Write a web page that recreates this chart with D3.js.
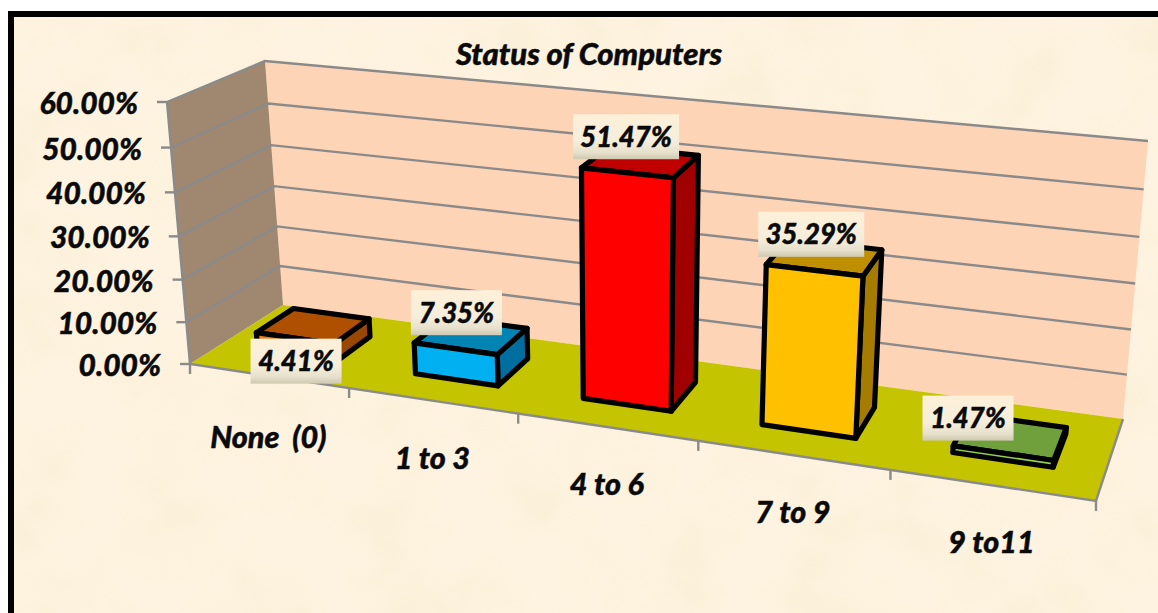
<!DOCTYPE html>
<html><head><meta charset="utf-8">
<script src="https://cdn.jsdelivr.net/npm/d3@7/dist/d3.min.js"></script>
<style>html,body{margin:0;padding:0;background:#fff}svg{display:block}text{font-family:Lato,"Open Sans",sans-serif;font-weight:900;font-style:italic;fill:#0a0a0a;stroke:#0a0a0a;stroke-width:.45px}</style>
</head><body><div id="c"></div>
<script>
const title = "Status of Computers";
const categories = ["None  (0)", "1 to 3", "4 to 6", "7 to 9", "9 to11"];
const values = [0.0441, 0.0735, 0.5147, 0.3529, 0.0147];
const tickValues = [0, 0.1, 0.2, 0.3, 0.4, 0.5, 0.6];
const frontColors = ["#F07D14", "#00B0F0", "#FF0000", "#FFC000", "#92D050"];
const topColors = ["#AE5000", "#0084B4", "#C00000", "#C08F00", "#70A03C"];
const sideColors = ["#9A4700", "#006F9F", "#A00000", "#A67C00", "#557F2E"];

const W = 1158, H = 613;
const svg = d3.select("#c").append("svg").attr("width", W).attr("height", H);
const defs = svg.append("defs");

const grad = defs.append("linearGradient").attr("id", "lab").attr("x1", 0).attr("y1", 0).attr("x2", 0).attr("y2", 1);
[[0, "#FDF0D8"], [0.6, "#F5EEDC"], [0.85, "#E6E0CC"], [1, "#CFC9B2"]].forEach(s => grad.append("stop").attr("offset", s[0]).attr("stop-color", s[1]));

const noise = defs.append("filter").attr("id", "mottle").attr("x", 0).attr("y", 0).attr("width", 1).attr("height", 1);
noise.append("feTurbulence").attr("type", "fractalNoise").attr("baseFrequency", 0.014).attr("numOctaves", 3).attr("seed", 7);
noise.append("feColorMatrix").attr("type", "matrix").attr("values", "0 0 0 0 0.93  0 0 0 0 0.86  0 0 0 0 0.66  1.6 0 0 0 -0.62");

// frame and parchment
svg.append("rect").attr("x", 8).attr("y", 11).attr("width", W).attr("height", H).attr("fill", "#000");
svg.append("rect").attr("x", 14).attr("y", 17).attr("width", W).attr("height", H).attr("fill", "#FEF3E0");
svg.append("rect").attr("x", 14).attr("y", 17).attr("width", W).attr("height", H).attr("filter", "url(#mottle)").attr("opacity", 0.7);

// view of the 3D box: [category axis, depth axis, value axis] corners
const corners = {
  "000": [190, 364], "100": [1096, 501], "010": [283, 305], "110": [1123, 419],
  "001": [167, 102], "101": [1122, 203], "011": [265, 61], "111": [1148, 141]
};
const foreshorten = (t, a) => a * t / (1 + (a - 1) * t);
function project(u, d, h) {
  const a = foreshorten(u, 0.852), c = foreshorten(h, 0.95);
  const out = [0, 0];
  for (const i of [0, 1]) for (const j of [0, 1]) for (const k of [0, 1]) {
    const w = (i ? a : 1 - a) * (j ? d : 1 - d) * (k ? c : 1 - c);
    const p = corners[`${i}${j}${k}`];
    out[0] += w * p[0]; out[1] += w * p[1];
  }
  return out;
}

const x = d3.scaleBand().domain(categories).range([0, 1]).paddingInner(0.5).paddingOuter(0.25);
const y = d3.scaleLinear().domain([0, 0.6]).range([0, 1]);
const fmt = d3.format(".2%");
const line = d3.line();
const poly = pts => line(pts) + "Z";
const GREY = "#8A8A8A";

const g = svg.append("g");
// walls and floor
g.append("path").attr("fill", "#FED4B7").attr("d", poly([[0,1,0],[1,1,0],[1,1,1],[0,1,1]].map(p => project(...p))));
g.append("path").attr("fill", "#A08870").attr("d", poly([[0,0,0],[0,1,0],[0,1,1],[0,0,1]].map(p => project(...p))));
g.append("path").attr("fill", "#C4C400").attr("d", poly([[0,0,0],[1,0,0],[1,1,0],[0,1,0]].map(p => project(...p))));

// gridlines
g.selectAll(".grid").data(tickValues.filter(v => v > 0)).join("path").attr("class", "grid")
  .attr("fill", "none").attr("stroke", GREY).attr("stroke-width", 2.4)
  .attr("d", v => line([project(0, 0, y(v)), project(0, 1, y(v)), project(1, 1, y(v))]));

// axis lines
g.append("path").attr("fill", "none").attr("stroke", GREY).attr("stroke-width", 2.4)
  .attr("d", line([project(0, 0, 1), project(0, 0, 0), project(1, 0, 0), project(1, 1, 0)]));

// value ticks
g.selectAll(".yt").data(tickValues).join("path").attr("class", "yt")
  .attr("stroke", GREY).attr("stroke-width", 2.4)
  .attr("d", v => { const p = project(0, 0, y(v)); return line([[p[0] - 10, p[1]], p]); });
g.selectAll(".yl").data(tickValues).join("text").attr("class", "yl")
  .attr("text-anchor", "end").attr("font-size", 30)
  .attr("x", v => project(0, 0, y(v))[0] - 29)
  .attr("y", v => project(0, 0, y(v))[1] + 12)
  .text(fmt);

// category ticks
const pad = (x.step() - x.bandwidth()) / 2;
const edges = categories.map(c => x(c) - pad).concat([1]);
g.selectAll(".xt").data(edges).join("path").attr("class", "xt")
  .attr("stroke", GREY).attr("stroke-width", 2.4)
  .attr("d", u => { const p = project(u, 0, 0); return line([p, [p[0], p[1] + 10]]); });
const catShift = new Map([["None  (0)", 4]]);
g.selectAll(".xl").data(categories).join("text").attr("class", "xl")
  .attr("text-anchor", "middle").attr("font-size", 30.5).attr("xml:space", "preserve").style("white-space", "pre")
  .attr("x", c => project(x(c) + x.bandwidth() / 2, 0, 0)[0])
  .attr("y", c => project(x(c) + x.bandwidth() / 2, 0, 0)[1] + 68 + (catShift.get(c) || 0))
  .text(c => c);

// bars
const D0 = 0.32, D1 = 0.73;
const order = d3.range(categories.length);
const bars = g.selectAll(".bar").data(order).join("g").attr("class", "bar")
  .attr("stroke", "#000").attr("stroke-width", 5.2).attr("stroke-linejoin", "round");
const uv = i => [x(categories[i]), x(categories[i]) + x.bandwidth()];
bars.append("path").attr("fill", i => sideColors[i]).attr("d", i => {
  const [, u1] = uv(i), h = y(values[i]);
  return poly([[u1,D0,0],[u1,D1,0],[u1,D1,h],[u1,D0,h]].map(p => project(...p)));
});
bars.append("path").attr("fill", i => topColors[i]).attr("d", i => {
  const [u0, u1] = uv(i), h = y(values[i]);
  return poly([[u0,D0,h],[u1,D0,h],[u1,D1,h],[u0,D1,h]].map(p => project(...p)));
});
bars.append("path").attr("fill", i => frontColors[i]).attr("d", i => {
  const [u0, u1] = uv(i), h = y(values[i]);
  return poly([[u0,D0,0],[u1,D0,0],[u1,D0,h],[u0,D0,h]].map(p => project(...p)));
});

// data labels
const labelShift = new Map([["None  (0)", [2, 59]], ["1 to 3", [2, 0]], ["7 to 9", [-2, 0]], ["9 to11", [-34, 1]]]);
const labels = g.selectAll(".dl").data(order).join("g").attr("class", "dl")
  .attr("transform", i => {
    const c = x(categories[i]) + x.bandwidth() / 2;
    const p = project(c, D0, y(values[i]));
    const s = labelShift.get(categories[i]) || [0, 0];
    return `translate(${p[0] + s[0] - 1},${p[1] - 36 + s[1]})`;
  });
labels.append("rect").attr("fill", "url(#lab)").attr("y", -22.5).attr("height", 45)
  .attr("x", i => values[i] >= 0.1 ? -53 : -45.5).attr("width", i => values[i] >= 0.1 ? 106 : 91);
labels.append("text").attr("text-anchor", "middle").attr("font-size", 27.5).attr("y", 10).text(i => fmt(values[i]));

svg.append("text").attr("x", 589).attr("y", 65).attr("text-anchor", "middle").attr("font-size", 31).text(title);
</script></body></html>
